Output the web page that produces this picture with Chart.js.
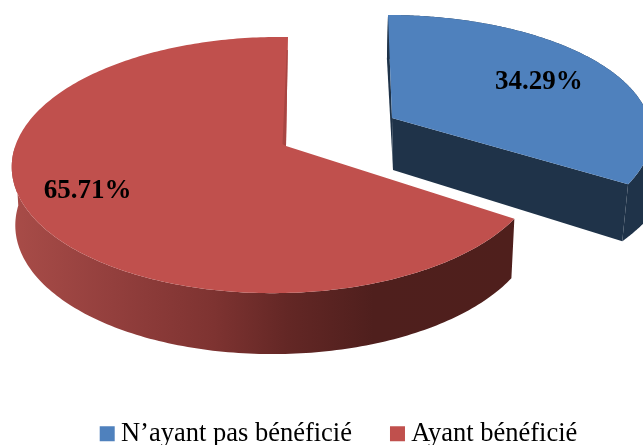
<!DOCTYPE html>
<html>
<head>
<meta charset="utf-8">
<style>html,body{margin:0;padding:0;background:#fff;overflow:hidden}canvas{display:block}</style>
<script src="https://cdn.jsdelivr.net/npm/chart.js@4"></script>
</head>
<body>
<canvas id="c" width="643" height="445"></canvas>
<script>
const categories = ["N’ayant pas bénéficié", "Ayant bénéficié"];
const shares = [34.29, 65.71];
const topColors = ["#4f81bd", "#c0504d"];

// Perspective of each exploded slice: plane disc (u,v) -> screen, plus the extruded bottom rim.
const views = [
  { ox: 392, oy: 118, a: 265, b: 4.6, c: -3, d: 118.5, p: 0.15, q: -0.036,
    bottom: (x, y) => [1 + x + y * 0.02 - 0.5 * Math.max(0, y - 50), 52 + y * 1.076],
    labelR: 0.68, labelDy: 1 },
  { ox: 286, oy: 146, a: 261, b: -2.3, c: 0, d: 125.2, p: 0.1486, q: -0.036,
    bottom: (x, y) => [x * 0.987, 58 + y * 1.02],
    labelR: 0.79, labelDy: -6 }
];

function project(view, angle, r) {
  const u = Math.cos(angle) * r, v = Math.sin(angle) * r;
  const w = 1 - view.p * v - view.q * u;
  return [(view.a * u + view.b * v) / w, (view.c * u + view.d * v) / w];
}
function rim(view, start, end) {
  const pts = [];
  const n = 240;
  for (let i = 0; i <= n; i++) pts.push(project(view, start + (end - start) * i / n, 1));
  return pts;
}
function fillPath(ctx, pts, fill) {
  ctx.beginPath();
  pts.forEach((pt, i) => i ? ctx.lineTo(pt[0], pt[1]) : ctx.moveTo(pt[0], pt[1]));
  ctx.closePath();
  ctx.fillStyle = fill;
  ctx.fill();
}

const pie3d = {
  id: 'pie3d',
  beforeDatasetDraw(chart, args) {
    const ctx = chart.ctx;
    const arcs = chart.getDatasetMeta(args.index).data;
    // red slice first, the exploded blue slice on top of it
    [1, 0].forEach(i => {
      const arc = arcs[i], view = views[i];
      const s = arc.startAngle, e = arc.endAngle;
      const top = rim(view, s, e);
      const at = pt => [view.ox + pt[0], view.oy + pt[1]];
      const low = pt => { const b = view.bottom(pt[0], pt[1]); return [view.ox + b[0], view.oy + b[1]]; };
      const last = top[top.length - 1];
      const o = [0, 0];
      if (i === 1) {
        const wall = ctx.createLinearGradient(13, 0, 514, 0);
        wall.addColorStop(0, '#a84c48');
        wall.addColorStop(0.2, '#933f3d');
        wall.addColorStop(0.4, '#7e3331');
        wall.addColorStop(0.55, '#632725');
        wall.addColorStop(0.72, '#4f1f1d');
        wall.addColorStop(1, '#4f1f1c');
        // only the near half of the rim shows
        const front = top.filter(pt => pt[1] > 0);
        fillPath(ctx, front.map(at).concat(front.slice().reverse().map(low)), wall);
        fillPath(ctx, [at(o)].concat(top.map(at)), topColors[i]);
        // sliver of the cut face along the far straight edge
        const far = at([last[0] * 0.88, last[1] * 0.88]);
        const near = at(o);
        fillPath(ctx, [near, far, [far[0] - 1, far[1]], [near[0] - 3.5, near[1] - 2]], '#a84542');
      } else {
        const wall = '#1f3349';
        fillPath(ctx, [at(o), at(top[0]), low(top[0]), low(o)], wall);
        fillPath(ctx, [at(o), at(last), low(last), low(o)], wall);
        fillPath(ctx, top.map(at).concat(top.slice().reverse().map(low)), wall);
        fillPath(ctx, [at(o)].concat(top.map(at)), topColors[i]);
      }
    });
    // percentage labels
    ctx.fillStyle = '#000';
    ctx.font = 'bold 27px "Liberation Serif"';
    ctx.textAlign = 'center';
    ctx.textBaseline = 'middle';
    [0, 1].forEach(i => {
      const arc = arcs[i], view = views[i];
      const pt = project(view, (arc.startAngle + arc.endAngle) / 2, view.labelR);
      ctx.fillText(shares[i].toFixed(2) + '%', view.ox + pt[0], view.oy + pt[1] + view.labelDy);
    });
    return false;
  }
};

new Chart(document.getElementById('c'), {
  type: 'pie',
  data: {
    labels: categories,
    datasets: [{ data: shares, backgroundColor: topColors, borderWidth: 0 }]
  },
  options: {
    responsive: false,
    animation: false,
    layout: { padding: { left: 41, bottom: -12 } },
    plugins: {
      tooltip: { enabled: false },
      legend: {
        position: 'bottom',
        labels: {
          usePointStyle: true,
          pointStyle: 'rect',
          boxWidth: 1,
          boxHeight: 15,
          padding: 45,
          color: '#000',
          font: { family: '"Liberation Serif"', size: 26.5 }
        }
      }
    }
  },
  plugins: [pie3d]
});
</script>
</body>
</html>
